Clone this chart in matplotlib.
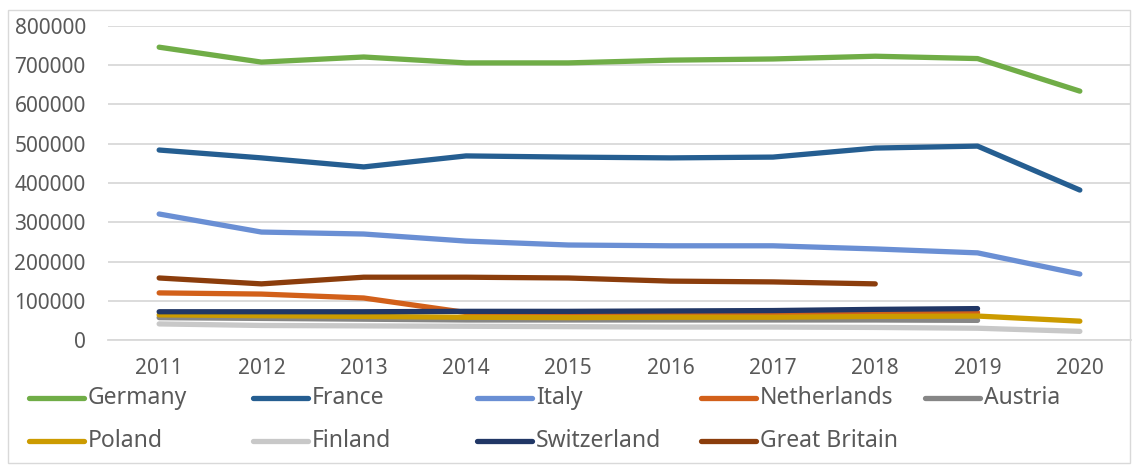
import matplotlib
matplotlib.use('Agg')
import matplotlib.pyplot as plt
from matplotlib.lines import Line2D
import numpy as np

plt.rcParams['font.family'] = ['Noto Sans', 'DejaVu Sans']

years = ['2011', '2012', '2013', '2014', '2015', '2016', '2017', '2018', '2019', '2020']

germany = [746000, 708000, 721000, 706000, 706000, 713000, 716000, 723000, 717000, 634000]
france = [484000, 464000, 441000, 469000, 466000, 464000, 466000, 489000, 494000, 382000]
italy = [321000, 275000, 270000, 252000, 242000, 240000, 240000, 232000, 222000, 168000]
netherlands = [120000, 117000, 107000, 70000, 69000, 69000, 69000, 70000, 70000]
austria = [57000, 55000, 53000, 51000, 51000, 51000, 51000, 51000, 50000]
poland = [64000, 62000, 60000, 58000, 57000, 58000, 58000, 60000, 61000, 48000]
finland = [41000, 37000, 36000, 35000, 34000, 33000, 33000, 32000, 30000, 22000]
switzerland = [72000, 72000, 72000, 73000, 73000, 74000, 75000, 78000, 80000]
britain = [158000, 143000, 160000, 160000, 158000, 150000, 148000, 143000]

series = [
    ('Germany', germany, '#70AD47'),
    ('France', france, '#255E91'),
    ('Italy', italy, '#6A8FD4'),
    ('Netherlands', netherlands, '#D2601A'),
    ('Austria', austria, '#868686'),
    ('Poland', poland, '#CC9B00'),
    ('Finland', finland, '#C8C8C8'),
    ('Switzerland', switzerland, '#213766'),
    ('Great Britain', britain, '#8B3D0C'),
]

W, H = 1138, 465
fig = plt.figure(figsize=(W / 100, H / 100), dpi=100)
ax = fig.add_axes([108/W, 1-340/H, (1131-108)/W, (340-26)/H])

x = np.arange(len(years))
for name, vals, col in series:
    ax.plot(x[:len(vals)], vals, color=col, lw=3.8, label=name,
            solid_capstyle='round', solid_joinstyle='round')

ax.set_xlim(-0.5, len(years) - 0.5)
ax.set_ylim(0, 800000)
ax.set_yticks(np.arange(0, 800001, 100000))
ax.set_yticklabels([str(v) for v in range(0, 800001, 100000)])
ax.set_xticks(x)
ax.set_xticklabels(years)
ax.grid(axis='y', color='#D9D9D9', lw=1.3)
ax.set_axisbelow(True)
for s in ['top', 'right', 'left']:
    ax.spines[s].set_visible(False)
ax.spines['bottom'].set_color('#D9D9D9')
ax.spines['bottom'].set_linewidth(1.3)
ax.tick_params(length=0, labelsize=15, colors='#595959')
ax.tick_params(axis='y', pad=16)
ax.tick_params(axis='x', pad=13)

# legend laid out in Excel style: 5 evenly spaced columns, row-major
for i, (name, vals, col) in enumerate(series):
    r, c = divmod(i, 5)
    x0 = 29 + c * 224
    yy = 1 - (398 + r * 43) / H
    fig.add_artist(Line2D([x0/W, (x0+55)/W], [yy, yy], color=col, lw=3.8,
                          solid_capstyle='round', transform=fig.transFigure))
    fig.text((x0+59)/W, yy, name, fontsize=16.5, color='#595959',
             va='center', ha='left')

# chart border
fig.patches.append(plt.Rectangle((8/W, 0.005), 1 - 16/W, 1-10/H-0.005,
                                 transform=fig.transFigure, fill=False,
                                 edgecolor='#D9D9D9', lw=1))

fig.savefig('out.png', dpi=100)
